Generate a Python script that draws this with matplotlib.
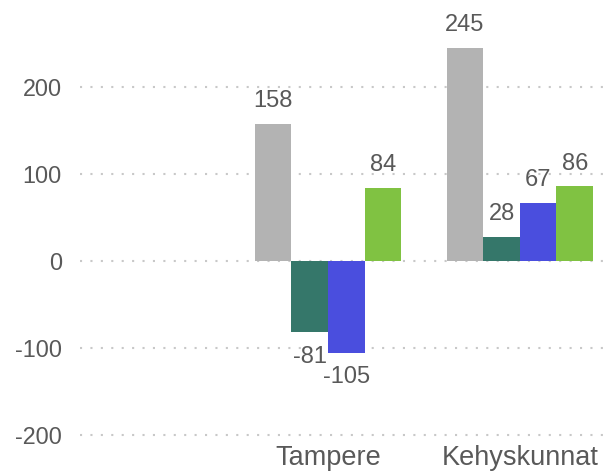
import numpy as np
import matplotlib.pyplot as plt

plt.rcParams['font.family'] = ['Liberation Sans', 'DejaVu Sans']
plt.rcParams['axes.unicode_minus'] = False

# categories (the first one is empty in the source chart)
categories = ['', 'Tampere', 'Kehyskunnat']
series_1 = [np.nan, 158, 245]
series_2 = [np.nan, -81, 28]
series_3 = [np.nan, -105, 67]
series_4 = [np.nan, 84, 86]
yticks = [-200, -100, 0, 100, 200]

colors = ['#b3b3b3', '#35776a', '#4a4ede', '#80c242']
text_color = '#595959'

fig = plt.figure(figsize=(6.09, 4.73), dpi=100)
ax = fig.add_axes([80 / 609, 1 - 444 / 473, 525 / 609, (444 - 20) / 473])

x = np.arange(len(categories))
width = 0.191
all_series = [series_1, series_2, series_3, series_4]

for i, (vals, col) in enumerate(zip(all_series, colors)):
    pos = x + (i - 1.5) * width
    ax.bar(pos, vals, width=width, color=col, zorder=3)
    for p, v in zip(pos, vals):
        if np.isnan(v):
            continue
        if v >= 0:
            ax.annotate(str(int(v)), (p, v), xytext=(0, 12), textcoords='offset points',
                        ha='center', va='baseline', fontsize=17, color=text_color,
                        annotation_clip=False)
        else:
            ax.annotate(str(int(v)), (p, v), xytext=(0, -10), textcoords='offset points',
                        ha='center', va='top', fontsize=17, color=text_color,
                        annotation_clip=False)

ax.set_xlim(-0.293, 2.444)
ax.set_ylim(-210, 277)
ax.set_yticks(yticks)
ax.set_xticks(x)
ax.set_xticklabels(categories)

ax.grid(axis='y', color='#c8c8c8', linestyle=(0, (1, 4)), linewidth=1.5, zorder=0)
for s in ax.spines.values():
    s.set_visible(False)
ax.tick_params(axis='both', length=0, labelcolor=text_color)
ax.tick_params(axis='y', pad=13, labelsize=16.8)
ax.tick_params(axis='x', pad=1, labelsize=19.5)

fig.savefig('out.png', dpi=100)
